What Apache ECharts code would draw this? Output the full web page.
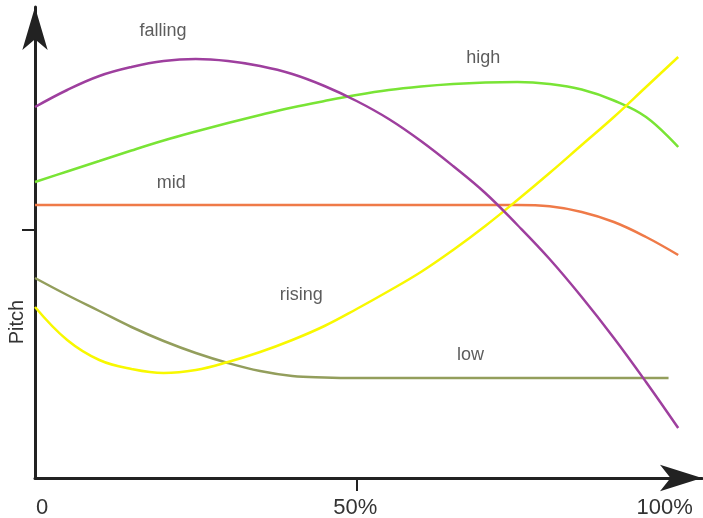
<!DOCTYPE html>
<html>
<head>
<meta charset="utf-8">
<script src="https://cdn.jsdelivr.net/npm/echarts@6/dist/echarts.min.js"></script>
<style>
  html, body { margin: 0; padding: 0; background: #fff; }
  #main { width: 703px; height: 518px; }
</style>
</head>
<body>
<div id="main"></div>
<script>
// time axis, percent of syllable duration
var timePct = [0, 5, 10, 15, 20, 25, 30, 35, 40, 45, 50, 55, 60, 65, 70, 75, 80, 85, 90, 95, 100];
var lowTime = [0, 5, 10, 15, 20, 25, 30, 35, 40, 45, 50, 55, 60, 65, 70, 75, 80, 85, 90, 95, 98.5];

// pitch values (arbitrary units)
var falling = [371, 388, 402, 411, 417, 419, 417, 412, 404, 392, 377, 359, 337, 312, 285, 253, 219, 181, 140, 96, 50];
var high = [296, 306.5, 317, 327.5, 337.5, 346.5, 355, 363, 370.5, 377, 383, 388, 391.5, 394, 395.5, 396, 394, 388.5, 377.5, 361, 331];
var mid = [273, 273, 273, 273, 273, 273, 273, 273, 273, 273, 273, 273, 273, 273, 273, 273, 271.7, 266, 256, 241, 223];
var rising = [171, 138, 118, 109, 105, 108, 116, 126, 138, 152, 169, 187, 206, 228, 252, 278, 305, 333, 361, 391, 421];
var low = [200, 183, 167, 151, 137, 125, 115, 107, 102, 100.5, 100, 100, 100, 100, 100, 100, 100, 100, 100, 100, 100];

// curve names and where they are written
var toneNames = ['falling', 'high', 'mid', 'rising', 'low'];
var toneLabelX = [19.9, 69.7, 21.2, 41.4, 67.7];
var toneLabelY = [447, 420, 295, 183, 123];

// x tick labels
var tickLabels = ['0', '50%', '100%'];
var tickLabelPos = [1.1, 49.8, 97.9];

var chart = echarts.init(document.getElementById('main'));

function pairs(xs, ys) {
  return xs.map(function (x, i) { return [x, ys[i]]; });
}

function line(name, xs, ys, color) {
  return {
    name: name,
    type: 'line',
    data: pairs(xs, ys),
    smooth: 0.4,
    showSymbol: false,
    silent: true,
    lineStyle: { color: color, width: 2.5 }
  };
}

var font = "'Liberation Sans', Arial, sans-serif";

var option = {
  animation: false,
  grid: {
    left: 35,
    right: 1,
    top: 7,
    bottom: 40,
    outerBoundsMode: 'none'
  },
  xAxis: {
    type: 'value',
    min: 0,
    max: 103.7,
    name: 'Time',
    nameLocation: 'middle',
    nameGap: 9,
    nameTextStyle: { fontSize: 20, color: '#333', fontFamily: font, padding: [0, 0, 0, 203] },
    splitLine: { show: false },
    axisLine: {
      lineStyle: { color: '#222', width: 3 },
      symbol: ['none', 'arrow'],
      symbolSize: [20, 42]
    },
    axisTick: {
      customValues: [50],
      length: 13,
      lineStyle: { color: '#222', width: 2 }
    },
    axisLabel: {
      customValues: tickLabelPos,
      margin: 19,
      fontSize: 22,
      color: '#333',
      fontFamily: font,
      formatter: function (v) {
        var i = tickLabelPos.indexOf(v);
        return i >= 0 ? tickLabels[i] : '';
      }
    }
  },
  yAxis: {
    type: 'value',
    min: 0,
    max: 471,
    name: 'Pitch',
    nameLocation: 'middle',
    nameGap: 8,
    nameRotate: 90,
    nameTextStyle: { fontSize: 20, color: '#333', fontFamily: font, padding: [0, 159, 0, 0] },
    splitLine: { show: false },
    axisLine: {
      lineStyle: { color: '#222', width: 3 },
      symbol: ['none', 'arrow'],
      symbolSize: [19, 43]
    },
    axisTick: {
      customValues: [248],
      length: 13,
      lineStyle: { color: '#222', width: 2 }
    },
    axisLabel: { show: false }
  },
  series: [
    line('low', lowTime, low, '#939e5c'),
    line('mid', timePct, mid, '#ef7a48'),
    line('high', timePct, high, '#79e435'),
    line('rising', timePct, rising, '#f8f800'),
    line('falling', timePct, falling, '#9e3f9e'),
    {
      name: 'names',
      type: 'scatter',
      silent: true,
      symbolSize: 1,
      itemStyle: { color: 'transparent' },
      data: toneNames.map(function (n, i) {
        return { name: n, value: [toneLabelX[i], toneLabelY[i]] };
      }),
      label: {
        show: true,
        position: 'inside',
        formatter: '{b}',
        fontSize: 18,
        color: '#333',
        fontFamily: font
      }
    }
  ]
};

chart.setOption(option);
</script>
</body>
</html>
